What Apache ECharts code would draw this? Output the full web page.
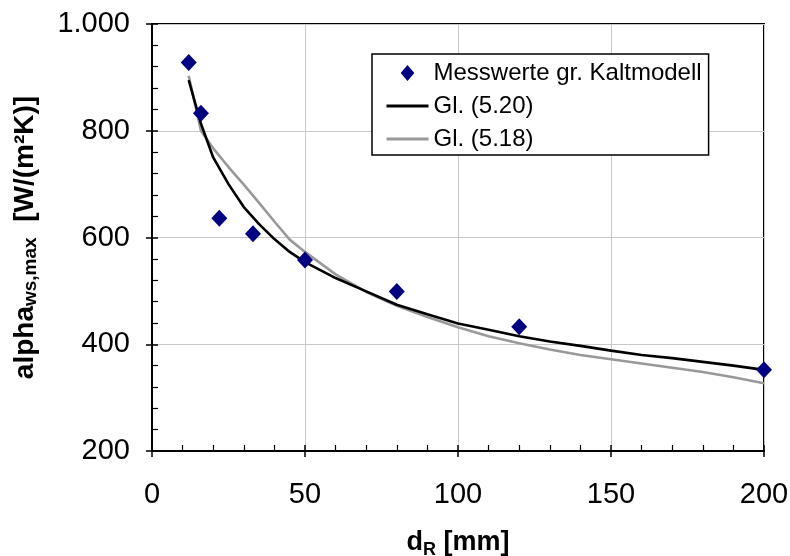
<!DOCTYPE html>
<html>
<head>
<meta charset="utf-8">
<script src="https://cdn.jsdelivr.net/npm/echarts@6/dist/echarts.min.js"></script>
<style>html,body{margin:0;padding:0;background:#fff}#c{width:790px;height:556px}</style>
</head>
<body>
<div id="c"></div>
<script>
const measX = [12, 16, 22, 33, 50, 80, 120, 200];
const measY = [928, 833, 636, 607, 558, 499, 433, 352];
const lineX = [12, 16, 20, 25, 30, 35, 40, 45, 50, 60, 70, 80, 90, 100, 110, 120, 130, 140, 150, 160, 170, 180, 190, 200];
const gl520 = [895, 813, 750, 700, 657, 625, 597, 573, 554, 524, 499, 474, 456, 439, 427, 415, 405, 397, 388, 380, 374, 367, 360, 352];
const gl518 = [903, 800, 767, 732, 699, 665, 630, 596, 573, 531, 498, 472, 451, 432, 415, 402, 390, 380, 372, 364, 356, 348, 338, 327];
const seriesNames = ['Messwerte gr. Kaltmodell', 'Gl. (5.20)', 'Gl. (5.18)'];
const xTitle = ['d', 'R', ' [mm]'];
const yTitle = ['alpha', 'ws,max', '  [W/(m²K)]'];

const FONT = 'Liberation Sans, Arial, sans-serif';
const chart = echarts.init(document.getElementById('c'));
const pairs = (xs, ys) => xs.map((x, i) => [x, ys[i]]);

const baseX = {type: 'value', min: 0, max: 200, interval: 50, position: 'bottom', gridIndex: 0};
const baseY = {type: 'value', min: 200, max: 1000, interval: 200, position: 'left', gridIndex: 0};

chart.setOption({
  animation: false,
  textStyle: {fontFamily: FONT},
  grid: {left: 152, right: 26, top: 24, bottom: 105, outerBoundsMode: 'none', containLabel: false,
    show: true, borderColor: '#000', borderWidth: 2, backgroundColor: 'transparent'},
  legend: {
    orient: 'vertical', left: 372, top: 54,
    backgroundColor: '#fff', borderColor: '#000', borderWidth: 1.5,
    padding: [7, 7, 4, 13], itemGap: 9, itemWidth: 42, itemHeight: 16,
    textStyle: {fontSize: 24, fontFamily: FONT, color: '#000'},
    data: [
      {name: seriesNames[0], icon: 'path://M0,-7 L6,0 L0,7 L-6,0 Z', itemStyle: {color: '#000080', opacity: 1}},
      {name: seriesNames[1], itemStyle: {opacity: 0}, lineStyle: {width: 3}},
      {name: seriesNames[2], itemStyle: {opacity: 0}, lineStyle: {width: 3}}
    ]
  },
  xAxis: [
    Object.assign({}, baseX, {
      axisLine: {show: true, lineStyle: {color: '#000', width: 2}},
      axisTick: {show: true, inside: true, length: 6, lineStyle: {color: '#000', width: 1.5}},
      minorTick: {show: true, splitNumber: 5, length: 6, lineStyle: {color: '#000', width: 1.2}},
      splitLine: {show: true, lineStyle: {color: '#c8c8c8', width: 1}},
      axisLabel: {fontSize: 29, color: '#000', margin: 29, fontFamily: FONT},
      name: '{a|' + xTitle[0] + '}{s|' + xTitle[1] + '}{a|' + xTitle[2] + '}',
      nameLocation: 'middle', nameGap: 76,
      nameTextStyle: {
        fontFamily: FONT,
        rich: {
          a: {fontSize: 27, fontWeight: 'bold', color: '#000', fontFamily: FONT},
          s: {fontSize: 18, fontWeight: 'bold', color: '#000', fontFamily: FONT, padding: [14, 0, 0, 0]}
        }
      }
    }),
    Object.assign({}, baseX, {
      axisLine: {show: false},
      axisTick: {show: true, inside: false, length: 6, lineStyle: {color: '#000', width: 1.5}},
      axisLabel: {show: false},
      splitLine: {show: false}
    })
  ],
  yAxis: [
    Object.assign({}, baseY, {
      axisLine: {show: true, lineStyle: {color: '#000', width: 2}},
      axisTick: {show: true, inside: true, length: 6, lineStyle: {color: '#000', width: 1.5}},
      minorTick: {show: true, splitNumber: 5, length: 6, lineStyle: {color: '#000', width: 1.2}},
      splitLine: {show: true, lineStyle: {color: '#c8c8c8', width: 1}},
      axisLabel: {fontSize: 29, color: '#000', margin: 22, fontFamily: FONT,
        formatter: v => v >= 1000 ? (Math.floor(v / 1000) + '.' + String(v % 1000).padStart(3, '0')) : String(v)},
      name: '{a|' + yTitle[0] + '}{s|' + yTitle[1] + '}{a|' + yTitle[2] + '}',
      nameLocation: 'middle', nameGap: 112, nameRotate: 90,
      nameTextStyle: {
        fontFamily: FONT,
        rich: {
          a: {fontSize: 28, fontWeight: 'bold', color: '#000', fontFamily: FONT},
          s: {fontSize: 19, fontWeight: 'bold', color: '#000', fontFamily: FONT, padding: [10, 0, 0, 0]}
        }
      }
    }),
    Object.assign({}, baseY, {
      axisLine: {show: false},
      axisTick: {show: true, inside: false, length: 6, lineStyle: {color: '#000', width: 1.5}},
      axisLabel: {show: false},
      splitLine: {show: false}
    })
  ],
  series: [
    {
      name: seriesNames[1], type: 'line', data: pairs(lineX, gl520),
      showSymbol: false, symbol: 'none', z: 3,
      lineStyle: {color: '#000', width: 2.6}, itemStyle: {color: '#000'}
    },
    {
      name: seriesNames[2], type: 'line', data: pairs(lineX, gl518),
      showSymbol: false, symbol: 'none', z: 2,
      lineStyle: {color: '#999', width: 2.6}, itemStyle: {color: '#999'}
    },
    {
      name: seriesNames[0], type: 'scatter', data: pairs(measX, measY),
      symbol: 'diamond', symbolSize: [16, 17], z: 4,
      itemStyle: {color: '#000080', opacity: 1}
    }
  ]
});
</script>
</body>
</html>
